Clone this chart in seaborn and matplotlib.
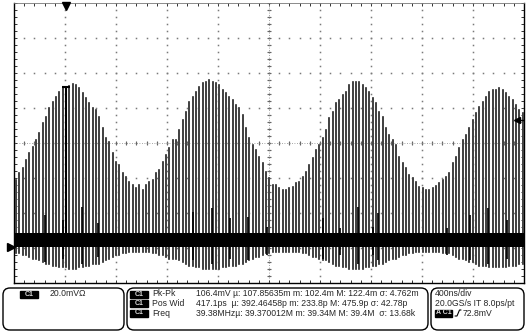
import numpy as np
import pandas as pd
import matplotlib
matplotlib.use("Agg")
import matplotlib.pyplot as plt
import seaborn as sns
from matplotlib.patches import FancyBboxPatch, Rectangle
from matplotlib.lines import Line2D

# ---- acquisition settings ----
TIME_PER_DIV_NS = 400
VOLTS_PER_DIV_MV = 20
N_HDIV, N_VDIV = 10, 8

FIRST_PULSE_NS = 16
PULSE_PERIOD_NS = 26.15
BASELINE_MV = -55.5
NOISE_BAND_MV = (-59.5, -51.5)
GROUND_MV = -59.4
TRIGGER_PULSE = 15
TRIGGER_LEVEL_MV = 13.1

# ---- pulse train: peak of each pulse (mV) ----
pulse_peak_mv = [
    -21.1, -17.1, -14.3, -9.7, -5.7, -2.3, 1.7, 5.7, 11.4, 14.9, 20.0, 23.4, 26.3,
    29.1, 31.4, 32.0, 32.6, 33.7, 33.1, 31.4, 28.6, 25.7, 22.9, 20.0, 18.9,
    14.9, 8.6, 2.9, 0.6, -5.7, -10.9, -12.6, -17.1, -19.4, -22.3, -24.0, -25.7, -24.0,
    -26.9, -24.0, -22.3, -21.1, -17.1, -15.4, -10.9, -6.9, -2.9, 1.7, 1.7, 7.4,
    13.1, 17.7, 23.4, 26.3, 29.1, 32.0, 34.3, 34.9, 36.0, 34.9, 34.3, 33.1, 30.3,
    28.6, 26.3, 24.6, 21.7, 20.0, 16.0, 8.6, 2.9, -1.1, -4.0, -8.0, -11.4, -16.6,
    -20.0, -24.0, -24.0, -25.7, -26.9, -26.9, -25.7, -25.1, -22.9, -22.3, -19.4, -16.6,
    -12.6, -8.6, -4.0, -1.1, 2.9, 7.4, 14.3, 17.7, 22.9, 24.6, 27.4, 29.1, 33.1,
    34.9, 34.9, 34.9, 33.1, 31.4, 29.1, 25.7, 22.9, 17.7, 14.9, 8.6, 4.6, 1.7,
    -1.1, -8.0, -11.4, -14.3, -18.3, -20.0, -22.3, -25.1, -25.7, -26.9, -26.9, -25.7, -24.6,
    -22.9, -21.1, -19.4, -17.1, -11.4, -8.0, -2.9, 1.7, 4.6, 8.6, 13.1, 17.1, 20.6,
    23.4, 26.3, 29.1, 30.3, 30.3, 31.4, 30.3, 28.6, 26.3, 24.6, 21.7, 18.9, 17.1,
]

# ---- undershoot below the baseline of each pulse (mV) ----
pulse_undershoot_mv = [
    -63, -63, -64, -64, -65, -66, -66, -67, -68, -69, -69, -70, -70,
    -71, -71, -71, -72, -72, -72, -71, -71, -70, -70, -69, -69,
    -69, -68, -67, -66, -65, -64, -64, -63, -63, -62, -62, -62, -62,
    -62, -62, -62, -63, -63, -64, -64, -65, -66, -66, -66, -67,
    -68, -69, -70, -70, -71, -71, -72, -72, -72, -72, -72, -72, -71,
    -71, -70, -70, -70, -69, -69, -68, -67, -66, -65, -65, -64, -63,
    -63, -62, -62, -62, -62, -62, -62, -62, -62, -62, -63, -63,
    -64, -65, -65, -66, -67, -67, -68, -69, -70, -70, -71, -71, -72,
    -72, -72, -72, -72, -71, -71, -70, -70, -69, -69, -68, -67, -66,
    -66, -65, -64, -64, -63, -63, -62, -62, -62, -62, -62, -62, -62,
    -62, -63, -63, -63, -64, -65, -66, -66, -67, -68, -68, -69, -70,
    -70, -70, -71, -71, -71, -71, -71, -71, -70, -70, -70, -69, -69,
]

# ---- ringing glitches riding on the baseline ----
glitch_t_ns = [243, 384, 533, 659, 1404, 1553, 1694, 1835, 1984,
               2424, 2557, 2698, 2816, 2855, 3396, 3576, 3718, 3867]
glitch_top_mv = [-41.1, -44.0, -36.6, -45.7, -39.4, -37.1, -42.9, -42.3, -48.0,
                 -42.9, -48.6, -36.6, -48.0, -40.0, -48.6, -41.1, -37.1, -44.0]
glitch_bottom_mv = [-68, -66, -69, -65, -67, -69, -66, -67, -64,
                    -66, -64, -69, -64, -67, -64, -67, -69, -66]

# ---- readout panel ----
meas_names = ["Pk-Pk", "Pos Wid", "Freq"]
meas_rows = [
    "106.4mV \u00b5: 107.85635m m: 102.4m M: 122.4m \u03c3: 4.762m",
    "417.1ps  \u00b5: 392.46458p m: 233.8p M: 475.9p \u03c3: 42.78p",
    "39.38MHz\u00b5: 39.370012M m: 39.34M M: 39.4M  \u03c3: 13.68k",
]
channel_scale = "20.0mV\u03a9"
timebase_rows = ["400ns/div", "20.0GS/s IT 8.0ps/pt"]
trigger_text = "72.8mV"

sns.set_theme(style="white")
plt.rcParams["font.family"] = ["Liberation Sans", "DejaVu Sans"]

fig = plt.figure(figsize=(5.26, 3.33), dpi=100)
fig.patch.set_facecolor("white")
ax = fig.add_axes([14 / 526, 50 / 333, 510 / 526, 280 / 333])
t_max = N_HDIV * TIME_PER_DIV_NS
v_half = N_VDIV / 2 * VOLTS_PER_DIV_MV
ax.set_xlim(0, t_max)
ax.set_ylim(-v_half, v_half)
ax.set_facecolor("white")

# graticule: dotted division lines
maj_t = np.arange(TIME_PER_DIV_NS, t_max, TIME_PER_DIV_NS)
maj_v = np.arange(-v_half + VOLTS_PER_DIV_MV, v_half, VOLTS_PER_DIV_MV)
min_t = np.arange(0, t_max + 1, TIME_PER_DIV_NS / 5)
min_v = np.arange(-v_half, v_half + 0.1, VOLTS_PER_DIV_MV / 5)
dot = dict(ls="none", marker="s", ms=1.1, mew=0, color="#7a7a7a", zorder=1)
for t in maj_t:
    ax.plot(np.full(len(min_v), t), min_v, **dot)
for v in maj_v:
    ax.plot(min_t, np.full(len(min_t), v), **dot)
# centre crosshair with fine ticks
ax.plot(min_t, np.zeros(len(min_t)), ls="none", marker="|", ms=3, mew=0.8, color="#666", zorder=1)
ax.plot(np.full(len(min_v), t_max / 2), min_v, ls="none", marker="_", ms=3, mew=0.8, color="#666", zorder=1)
ax.axhline(0, color="#888", lw=0.6, ls=(0, (1, 2)), zorder=1)
ax.axvline(t_max / 2, color="#888", lw=0.6, ls=(0, (1, 2)), zorder=1)

# pulse train as one continuous trace
pulse_t = FIRST_PULSE_NS + PULSE_PERIOD_NS * np.arange(len(pulse_peak_mv))
rows = []
for t, pk, un in zip(pulse_t, pulse_peak_mv, pulse_undershoot_mv):
    rows += [(t, BASELINE_MV), (t, pk), (t, un), (t, BASELINE_MV)]
wave = pd.DataFrame(rows, columns=["t_ns", "v_mv"])
sns.lineplot(data=wave, x="t_ns", y="v_mv", sort=False, estimator=None,
             color="#444444", lw=1.15, ax=ax, zorder=3, legend=False)

# baseline noise band and glitches
ax.fill_between([0, t_max], NOISE_BAND_MV[0], NOISE_BAND_MV[1], color="black", lw=0, zorder=5)
ax.vlines(glitch_t_ns, glitch_bottom_mv, glitch_top_mv, color="black", lw=1.2, zorder=5)

# trigger pulse with cap
tp = pulse_t[TRIGGER_PULSE]
pk = pulse_peak_mv[TRIGGER_PULSE]
ax.vlines(tp, BASELINE_MV, pk, color="black", lw=1.5, zorder=6)
ax.hlines(pk, tp - 30, tp + 30, color="black", lw=1.5, zorder=6)

# markers: trigger position, ground, trigger level
ax.plot([tp], [v_half - 1.5], marker="v", ms=6, color="black", clip_on=False, zorder=7)
ax.plot([-22], [GROUND_MV], marker=">", ms=6, color="black", clip_on=False, zorder=7)
ax.plot([t_max - 55], [TRIGGER_LEVEL_MV], marker="<", ms=4, color="black", zorder=7)
ax.plot([t_max - 55, t_max], [TRIGGER_LEVEL_MV] * 2, color="black", lw=1, zorder=7)

# frame with inward ticks
ax.set_xticks(min_t)
ax.set_yticks(min_v)
ax.tick_params(axis="both", which="both", direction="in", length=2.5, width=0.7,
               color="#333", top=True, bottom=True, left=True, right=True,
               labelbottom=False, labelleft=False)
ax.set_xlabel("")
ax.set_ylabel("")
ax.grid(False)
for side, sp in ax.spines.items():
    sp.set_visible(True)
    sp.set_color("black" if side != "top" else "#777")
    sp.set_linewidth(1.0 if side != "top" else 0.6)

# readout panel in pixel coordinates
ov = fig.add_axes([0, 0, 1, 1], zorder=10)
ov.set_xlim(0, 526)
ov.set_ylim(333, 0)
ov.axis("off")
ov.patch.set_alpha(0)

def panel(x0, x1, y0=288, y1=330):
    ov.add_patch(FancyBboxPatch((x0, y0), x1 - x0, y1 - y0,
                                boxstyle="round,pad=0,rounding_size=7",
                                fill=False, ec="black", lw=1.0))

def badge(x, y, text, w=18):
    ov.add_patch(Rectangle((x, y - 3.5), w, 7, color="black"))
    ov.text(x + w / 2, y, text, color="#d8d8d8", fontsize=5, ha="center",
            va="center", fontweight="bold")

fs = 6.2
row_y = [294, 303.5, 313]
panel(3, 124)
badge(20, row_y[0], "C1")
ov.text(50, row_y[0], channel_scale, fontsize=fs, va="center")

panel(127, 428)
for y, name, vals in zip(row_y, meas_names, meas_rows):
    badge(130, y, "C1")
    ov.text(152, y, name, fontsize=fs, va="center")
    ov.text(196, y, vals, fontsize=fs, va="center")

panel(431, 524)
for y, s in zip(row_y, timebase_rows):
    ov.text(435, y, s, fontsize=fs, va="center")
badge(435, row_y[2], "A C1", w=17)
ov.add_line(Line2D([455, 457, 459.5, 461], [316, 316, 310, 310], color="black", lw=0.8))
ov.text(463, row_y[2], trigger_text, fontsize=fs, va="center")

fig.savefig("out.png", dpi=100, facecolor="white")
